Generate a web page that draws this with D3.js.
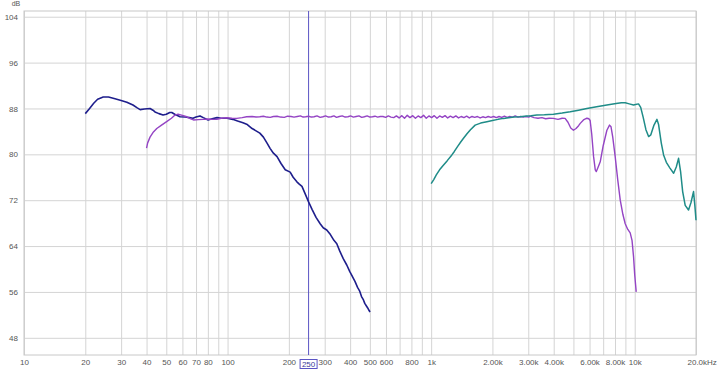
<!DOCTYPE html>
<html>
<head>
<meta charset="utf-8">
<script src="https://cdn.jsdelivr.net/npm/d3@7"></script>
<style>
  body { margin: 0; background: #fff; }
  svg { display: block; font-family: "Liberation Sans", Arial, sans-serif; }
</style>
</head>
<body>
<div id="chart"></div>
<script>
// navy curve (20 Hz - 500 Hz)
var navyFreq = [20, 21, 22, 23, 24.5, 26, 28, 30, 32, 34.3, 36, 37.2, 39, 41.6, 43, 44, 46, 48.2, 50, 52, 53.2, 55, 58.4, 62, 65, 67.6, 70, 73.2, 76, 80.2, 84, 88.8, 93, 99.5, 106, 112, 119, 125, 132, 138, 144, 150, 156, 162, 168, 175, 183, 192, 203, 210, 219, 225, 232, 240, 250, 260, 272, 285, 295, 307, 320, 333, 344, 355, 370, 385, 398, 410, 423, 435, 445, 455, 465, 472, 480, 488, 495, 501];
var navyDb = [87.1, 88.0, 88.9, 89.6, 90.0, 90.0, 89.7, 89.4, 89.1, 88.6, 88.1, 87.8, 87.9, 88.0, 87.7, 87.4, 87.1, 86.85, 87.0, 87.3, 87.3, 87.0, 86.55, 86.5, 86.4, 86.3, 86.5, 86.7, 86.4, 86.0, 86.2, 86.4, 86.3, 86.3, 86.1, 85.8, 85.5, 85.2, 84.5, 84.1, 83.7, 83.0, 82.0, 81.0, 80.2, 79.6, 78.4, 77.3, 76.9, 76.0, 75.2, 74.8, 74.4, 73.2, 71.7, 70.4, 69.0, 67.9, 67.2, 66.8, 66.0, 65.0, 64.4, 63.2, 61.8, 60.7, 59.6, 58.7, 57.8, 56.8, 56.2, 55.2, 54.6, 54.0, 53.6, 53.2, 52.8, 52.5];

// purple curve (40 Hz - 10 kHz)
var purpleFreq = [40, 40.5, 41.6, 43, 44.9, 47, 50.2, 53, 55.2, 57.1, 60, 63, 66, 68, 72, 75.9, 80, 84, 88.5, 93, 99, 105, 111, 118, 124, 132, 138, 144,
  150, 156, 162, 168, 175, 182, 190, 197, 205, 212, 220, 228, 235, 242, 250, 258, 266, 275, 285, 294, 303, 313, 323, 333, 343, 354, 366, 378, 390, 402, 415, 428, 442, 456, 470, 485, 500, 515, 530, 546, 562,
  580, 598, 616, 635, 655, 675, 696, 718, 740, 763, 787, 812, 837, 863, 890, 918, 946, 975, 1005, 1036, 1068, 1101, 1135, 1170, 1206, 1243, 1282, 1322, 1363, 1405, 1449, 1494, 1540, 1588, 1637, 1688, 1740, 1794, 1850, 1907, 1966, 2027, 2090, 2155, 2222, 2290, 2362, 2435, 2510, 2588, 2668, 2750, 2836, 2924, 3015,
  3063, 3200, 3350, 3500, 3650, 3800, 3986, 4200, 4400, 4550, 4700, 4850, 5000, 5150, 5300, 5400, 5600, 5820, 5950, 6040, 6150, 6280, 6400, 6477, 6600, 6770, 7000, 7300, 7520, 7650, 7800, 8017, 8250, 8490, 8750, 8980, 9250, 9500, 9700, 9870, 10000, 10170];
var purpleDb = [81.1, 82.0, 83.0, 83.8, 84.5, 85.0, 85.7, 86.3, 86.85, 87.0, 86.8, 86.55, 86.2, 86.0, 86.05, 86.1, 86.15, 86.1, 86.1, 86.3, 86.37, 86.3, 86.27, 86.4, 86.55, 86.6, 86.5, 86.55,
  86.65, 86.5, 86.45, 86.6, 86.65, 86.5, 86.45, 86.65, 86.6, 86.5, 86.6, 86.7, 86.5, 86.55, 86.65, 86.5, 86.55, 86.7, 86.45, 86.55, 86.7, 86.5, 86.55, 86.7, 86.45, 86.6, 86.7, 86.5, 86.55, 86.7, 86.5, 86.6, 86.7, 86.45, 86.55, 86.7, 86.5, 86.55, 86.65, 86.5, 86.6,
  86.6, 86.45, 86.7, 86.5, 86.4, 86.7, 86.35, 86.75, 86.3, 86.8, 86.4, 86.75, 86.3, 86.7, 86.4, 86.8, 86.3, 86.7, 86.4, 86.75, 86.3, 86.7, 86.45, 86.75, 86.35, 86.65, 86.4, 86.7, 86.35, 86.6, 86.4, 86.65, 86.35, 86.6, 86.45, 86.6, 86.35, 86.55, 86.4, 86.6, 86.45, 86.6, 86.4, 86.6, 86.45, 86.65, 86.45, 86.6, 86.5, 86.7, 86.5, 86.6, 86.5, 86.6, 86.5,
  86.67, 86.4, 86.3, 86.4, 86.2, 86.3, 86.27, 86.1, 86.3, 86.27, 85.6, 84.6, 84.2, 84.5, 85.0, 85.4, 86.0, 86.3, 86.2, 85.9, 83.5, 79.6, 77.3, 77.0, 77.7, 78.7, 81.5, 84.2, 85.1, 84.8, 83.0, 79.6, 75.6, 72.0, 69.5, 67.9, 66.9, 66.3, 65.0, 62.1, 59.0, 56.0];

// teal curve (1 kHz - 20 kHz)
var tealFreq = [1000, 1030, 1060, 1100, 1148, 1200, 1264, 1300, 1350, 1400, 1442, 1500, 1560, 1645, 1750, 1878, 2000, 2130, 2266, 2400, 2550, 2735, 2950, 3100, 3304, 3600, 3990, 4400, 4820, 5300, 5820, 6500, 7300, 8100, 8600, 8980, 9400, 9870, 10100, 10440, 10700, 11000, 11350, 11700, 12000, 12400, 12860, 13100, 13500, 13860, 14300, 14900, 15530, 16000, 16420, 16800, 17200, 17700, 18380, 18900, 19450, 19750, 20000];
var tealDb = [74.9, 75.6, 76.4, 77.3, 78.1, 78.9, 79.9, 80.5, 81.4, 82.2, 82.8, 83.6, 84.3, 85.1, 85.45, 85.7, 85.9, 86.1, 86.27, 86.4, 86.5, 86.55, 86.7, 86.75, 86.85, 86.9, 87.0, 87.2, 87.42, 87.7, 88.0, 88.3, 88.6, 88.85, 89.0, 89.0, 88.8, 88.6, 88.7, 88.8, 88.2, 86.5, 84.3, 83.1, 83.4, 85.0, 86.1, 85.2, 82.0, 79.9, 78.6, 77.6, 76.7, 77.8, 79.3, 77.0, 73.5, 71.1, 70.3, 71.6, 73.5, 71.0, 68.5];

// axis ticks and labels
var dbTicks = [48, 56, 64, 72, 80, 88, 96, 104];
var gridFreqs = [10, 20, 30, 40, 50, 60, 70, 80, 90, 100, 200, 300, 400, 500, 600, 700, 800, 900,
                 1000, 2000, 3000, 4000, 5000, 6000, 7000, 8000, 9000, 10000, 20000];
var labelFreqs = [10, 20, 30, 40, 50, 60, 70, 80, 100, 200, 300, 400, 500, 600, 800,
                  1000, 2000, 3000, 4000, 6000, 8000, 10000, 20000];
var labelTexts = ["10", "20", "30", "40", "50", "60", "70", "80", "100", "200", "300", "400", "500", "600", "800",
                  "1k", "2.00k", "3.00k", "4.00k", "6.00k", "8.00k", "10k", "20.0kHz"];
var cursorFreq = 250;

// set the dimensions and margins of the graph
var margin = {top: 11, right: 24, bottom: 15, left: 24},
    width = 720 - margin.left - margin.right,
    height = 370 - margin.top - margin.bottom;

var svg = d3.select("#chart")
  .append("svg")
    .attr("width", width + margin.left + margin.right)
    .attr("height", height + margin.top + margin.bottom)
  .append("g")
    .attr("transform", "translate(" + margin.left + "," + margin.top + ")");

var x = d3.scaleLog()
    .domain([10, 20000])
    .range([0, width]);

var y = d3.scaleLinear()
    .domain([45, 105])
    .range([height, 0]);

// horizontal grid + dB labels
var yAxis = svg.append("g")
    .call(d3.axisLeft(y).tickValues(dbTicks).tickSize(-width).tickPadding(6));
yAxis.select(".domain").remove();
yAxis.selectAll("line").attr("stroke", "#d4d4d4");
yAxis.selectAll("text").attr("fill", "#555").style("font-size", "8px");

// vertical grid + frequency labels
var xAxis = svg.append("g")
    .attr("transform", "translate(0," + height + ")")
    .call(d3.axisBottom(x)
      .tickValues(gridFreqs)
      .tickSize(-height)
      .tickPadding(4)
      .tickFormat(function(d) {
        var i = labelFreqs.indexOf(d);
        return i < 0 ? "" : labelTexts[i];
      }));
xAxis.select(".domain").remove();
xAxis.selectAll("line").attr("stroke", "#d4d4d4");
xAxis.selectAll("text").attr("fill", "#555").style("font-size", "8px");
xAxis.selectAll("text")
    .filter(function(d) { return d === 20000; })
    .attr("text-anchor", "start")
    .attr("x", -9);

// plot border
svg.append("rect")
    .attr("width", width)
    .attr("height", height)
    .attr("fill", "none")
    .attr("stroke", "#c8c8c8");

// "dB" unit label
svg.append("text")
    .attr("x", -8)
    .attr("y", -5.5)
    .attr("text-anchor", "middle")
    .attr("fill", "#555")
    .style("font-size", "7px")
    .text("dB");

// cursor at 250 Hz
svg.append("line")
    .attr("x1", x(cursorFreq))
    .attr("x2", x(cursorFreq))
    .attr("y1", 0)
    .attr("y2", height)
    .attr("stroke", "#5b54c4")
    .attr("stroke-width", 1);

svg.append("rect")
    .attr("x", x(cursorFreq) - 8.5)
    .attr("y", height + 4.5)
    .attr("width", 17)
    .attr("height", 9)
    .attr("fill", "#fff")
    .attr("stroke", "#5b54c4");

svg.append("text")
    .attr("x", x(cursorFreq))
    .attr("y", height + 12)
    .attr("text-anchor", "middle")
    .attr("fill", "#3a3a9a")
    .style("font-size", "8px")
    .text(cursorFreq);

// draw the curves
var line = d3.line()
    .x(function(d) { return x(d[0]); })
    .y(function(d) { return y(d[1]); });

var curves = [
  {freq: navyFreq, db: navyDb, color: "#1e1e8c", w: 1.6},
  {freq: purpleFreq, db: purpleDb, color: "#9444c4", w: 1.4},
  {freq: tealFreq, db: tealDb, color: "#1f8c88", w: 1.5}
];

curves.forEach(function(c) {
  svg.append("path")
      .datum(d3.zip(c.freq, c.db))
      .attr("fill", "none")
      .attr("stroke", c.color)
      .attr("stroke-width", c.w)
      .attr("stroke-linejoin", "round")
      .attr("d", line);
});
</script>
</body>
</html>
